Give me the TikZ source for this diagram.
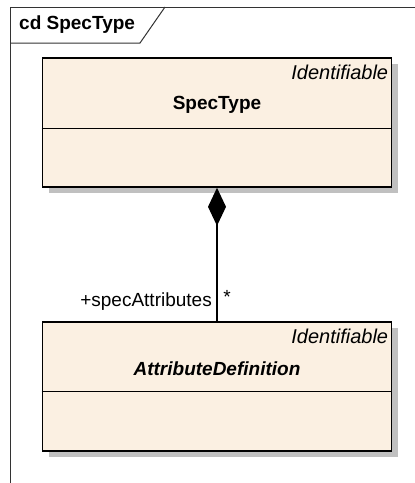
\documentclass[tikz,border=0pt]{standalone}
\usepackage{fontspec}
\setmainfont{Liberation Sans}
\usetikzlibrary{arrows.meta,shadows}
\definecolor{classfill}{RGB}{251,240,226}
\definecolor{shadowgray}{RGB}{192,192,192}
\begin{document}
\begin{tikzpicture}[x = 1pt, y = -1pt,
  classbox/.style = {draw, line width = 1.6pt, fill = classfill,
    minimum width = 349pt, minimum height = 129pt, inner sep = 0pt,
    drop shadow = {shadow xshift = 6pt, shadow yshift = -6pt,
      fill = shadowgray, opacity = 1}},
  stereo/.style = {anchor = north east, inner sep = 0pt,
    font = \fontsize{20}{22}\selectfont\itshape},
  txt/.style = {inner sep = 0pt, font = \fontsize{19}{21}\selectfont}]
\useasboundingbox (0, 0) rectangle (415, 483);
% frame
\draw[line width = 1pt, black!80] (10, 483) -- (10, 7) -- (415, 7);
\draw[line width = 1pt, black!80] (10, 43) -- (140, 43) -- (165, 7);
\node[txt, anchor = west, font = \fontsize{19}{21}\selectfont\bfseries] (title) at (19, 25) {cd SpecType};
% classes
\node[classbox] (spec) at (217, 122.5) {};
\draw[line width = 1pt] (spec.west |- 0, 128) -- (spec.east |- 0, 128);
\node[stereo] (specst) at ([xshift = -4pt, yshift = -8pt]spec.north east) {Identifiable};
\node[txt, font = \fontsize{19}{21}\selectfont\bfseries] (specname) at (217, 105) {SpecType};
\node[classbox] (attr) at (217, 386.5) {};
\draw[line width = 1pt] (attr.west |- 0, 391) -- (attr.east |- 0, 391);
\node[stereo] (attrst) at ([xshift = -4pt, yshift = -8pt]attr.north east) {Identifiable};
\node[txt, font = \fontsize{19}{21}\selectfont\bfseries\itshape] (attrname) at (217, 369) {AttributeDefinition};
% composition
\draw[line width = 1.3pt, {Diamond[length = 38pt, width = 18pt]}-] (spec.south) -- (attr.north);
\node[txt, anchor = east] (role) at ([xshift = -5pt, yshift = 20pt]attr.north) {+specAttributes};
\node[txt] (mult) at ([xshift = 10pt, yshift = 24pt]attr.north) {*};
\end{tikzpicture}
\end{document}
